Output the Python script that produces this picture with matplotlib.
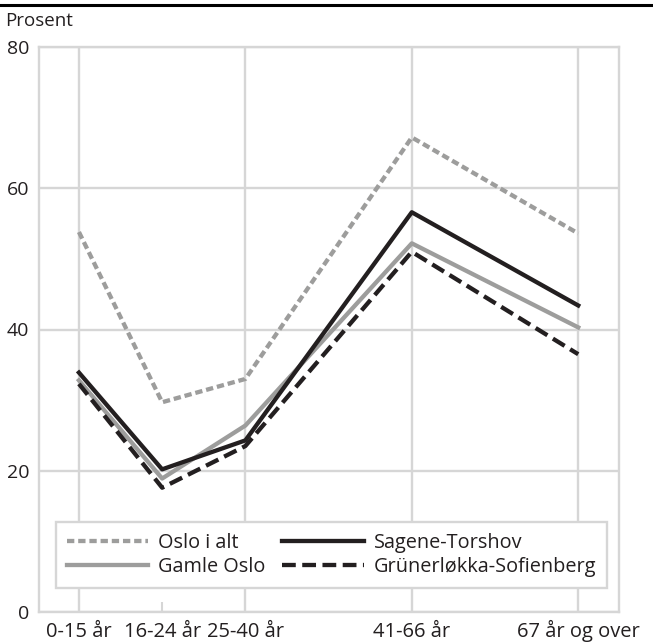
import matplotlib
matplotlib.use("Agg")
import matplotlib.pyplot as plt
from matplotlib.lines import Line2D

plt.rcParams['font.family'] = ['Open Sans', 'DejaVu Sans']

# aldersgrupper og plassering langs x-aksen
aldersgrupper = ["0-15 år", "16-24 år", "25-40 år", "41-66 år", "67 år og over"]
posisjon = [0, 1, 2, 4, 6]

oslo_i_alt = [53.8, 29.7, 33.0, 67.2, 53.6]
sagene_torshov = [33.9, 20.2, 24.3, 56.6, 43.4]
gamle_oslo = [32.8, 18.9, 26.4, 52.2, 40.3]
grunerlokka = [32.3, 17.6, 23.5, 51.0, 36.5]

svart = "#231f20"
graa = "#9d9d9c"
rutenett = "#d6d6d6"

fig = plt.figure(figsize=(6.53, 6.43), dpi=100)
ax = fig.add_axes([39/653, 1-612/643, 580/653, 565/643])

lw = 3.1
ax.plot(posisjon, oslo_i_alt, color=graa, lw=lw, dashes=(1.7, 0.9),
        label="Oslo i alt")
ax.plot(posisjon, gamle_oslo, color=graa, lw=lw, label="Gamle Oslo")
ax.plot(posisjon, sagene_torshov, color=svart, lw=lw, label="Sagene-Torshov")
ax.plot(posisjon, grunerlokka, color=svart, lw=lw, dashes=(3.2, 1.5),
        label="Grünerløkka-Sofienberg")

ax.set_xlim(-0.48, 6.49)
ax.set_ylim(0, 80)
ax.set_yticks([0, 20, 40, 60, 80])

# rutenett kun ved de store aldersgruppene
store = [0, 2, 3, 4]
ax.set_xticks([posisjon[i] for i in store])
ax.set_xticklabels([aldersgrupper[i] for i in store], va="baseline")
ax.set_xticks([posisjon[1]], minor=True)
ax.set_xticklabels([aldersgrupper[1]], minor=True, va="baseline")
ax.grid(True, which="major", color=rutenett, lw=1.7)
ax.set_axisbelow(True)
ax.tick_params(axis="x", which="major", length=0, pad=18, labelsize=14.5, colors=svart)
ax.tick_params(axis="x", which="minor", length=7, width=1.5, color=rutenett,
               pad=18, labelsize=14.5, labelcolor=svart, direction="in")
ax.tick_params(axis="y", length=0, pad=7, labelsize=14, colors=svart)
for s in ax.spines.values():
    s.set_color(rutenett)
    s.set_linewidth(1.7)

leg = ax.legend(ncol=2, loc="lower left", bbox_to_anchor=(0.029, 0.0425),
                borderaxespad=0, fontsize=14.3, handlelength=4.1, handletextpad=0.5,
                columnspacing=0.85, labelspacing=0.2, borderpad=0.55,
                fancybox=False, framealpha=1, edgecolor=rutenett)
leg.get_frame().set_linewidth(1.7)
for t in leg.get_texts():
    t.set_color(svart)

fig.add_artist(Line2D([0, 1], [1-5/643, 1-5/643], color="black", lw=2.2,
                      transform=fig.transFigure))
fig.text(5/653, 1-21/643, "Prosent", fontsize=13.5, color=svart, va="center")

fig.savefig("out.png", dpi=100)
